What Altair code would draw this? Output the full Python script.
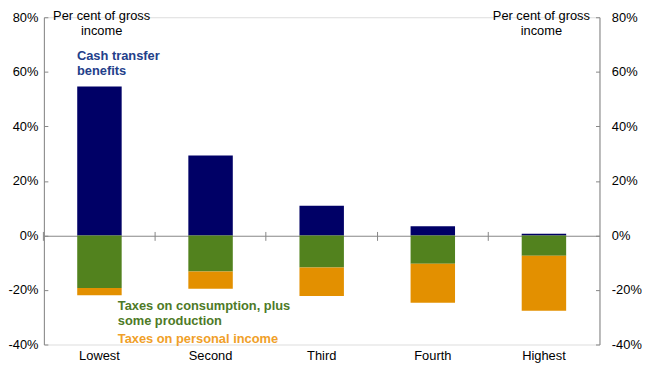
import altair as alt
import pandas as pd

categories = ["Lowest", "Second", "Third", "Fourth", "Highest"]
cash_transfer = [0.546, 0.293, 0.109, 0.034, 0.006]
tax_consumption = [-0.193, -0.132, -0.118, -0.104, -0.075]
tax_income = [-0.026, -0.064, -0.104, -0.143, -0.201]

series_names = ["Cash transfer benefits", "Taxes on consumption, plus some production", "Taxes on personal income"]
series_colors = ["#000066", "#52821E", "#E39000"]

y_ticks = [-0.4, -0.2, 0.0, 0.2, 0.4, 0.6, 0.8]
unit_label = ["Per cent of gross", "income"]
cash_label = ["Cash transfer", "benefits"]
consumption_label = ["Taxes on consumption, plus", "some production"]
income_label = ["Taxes on personal income"]

rows = []
for i, c in enumerate(categories):
    rows.append({"cat": c, "series": series_names[0], "order": 0, "value": cash_transfer[i]})
    rows.append({"cat": c, "series": series_names[1], "order": 1, "value": tax_consumption[i]})
    rows.append({"cat": c, "series": series_names[2], "order": 2, "value": tax_income[i]})
df = pd.DataFrame(rows)

W, H = 562, 331
FONT = "Liberation Sans"
FS = 13
AXIS_GREY = "#868686"

x_enc = alt.X("cat:N", sort=categories, title=None,
              scale=alt.Scale(paddingInner=0.6, paddingOuter=0.3),
              axis=alt.Axis(orient="bottom", offset=-H / 3 - 4, domain=False,
                            ticks=True, tickSize=9, tickColor=AXIS_GREY,
                            bandPosition=-0.75, labelAngle=0,
                            labelPadding=111, labelFontSize=FS, labelFont=FONT,
                            labelColor="#000000"))

y_scale = alt.Scale(domain=[-0.4, 0.8], nice=False, zero=False)

bars = alt.Chart(df).mark_bar().encode(
    x=x_enc,
    y=alt.Y("value:Q", stack="zero", scale=y_scale, title=None,
            axis=alt.Axis(orient="left", values=y_ticks,
                          labelExpr="round(datum.value*100) + '%'",
                          domain=True, domainColor=AXIS_GREY,
                          ticks=True, tickColor=AXIS_GREY, tickSize={"expr": "-4"},
                          labelPadding=10, labelFontSize=FS, labelFont=FONT,
                          labelColor="#000000",
                          grid=True, gridColor=AXIS_GREY,
                          gridOpacity={"expr": "datum.value === 0 ? 1 : 0"})),
    color=alt.Color("series:N", scale=alt.Scale(domain=series_names, range=series_colors), legend=None),
    order=alt.Order("order:Q"),
)

right = alt.Chart(df).mark_bar(opacity=0).encode(
    x=alt.X("cat:N", sort=categories, scale=alt.Scale(paddingInner=0.6, paddingOuter=0.3)),
    y=alt.Y("value:Q", stack="zero", scale=y_scale, title=None,
            axis=alt.Axis(orient="right", values=y_ticks,
                          labelExpr="round(datum.value*100) + '%'",
                          domain=True, domainColor=AXIS_GREY,
                          ticks=True, tickColor=AXIS_GREY, tickSize={"expr": "-4"},
                          labelPadding=16, labelFontSize=FS, labelFont=FONT,
                          labelColor="#000000", grid=False)),
    order=alt.Order("order:Q"),
)

def text_block(lines, x, y0, color, align, bold=False, step=15):
    layers = []
    for i, t in enumerate(lines):
        layers.append(
            alt.Chart(pd.DataFrame({"t": [t]})).mark_text(
                align=align, baseline="middle", font=FONT, fontSize=FS,
                fontWeight="bold" if bold else "normal", color=color
            ).encode(text="t:N", x=alt.value(x), y=alt.value(y0 + i * step))
        )
    return layers

texts = []
texts += text_block(unit_label, 58.4, -1.0, "#000000", "center", step=14.5)
texts += text_block(unit_label, 503.2, -1.0, "#000000", "center", step=14.5)
texts += text_block(cash_label, 33.4, 39.7, "#23408A", "left", bold=True)
texts += text_block(consumption_label, 74.7, 291.9, "#4E7A27", "left", bold=True, step=15.5)
texts += text_block(income_label, 74.7, 325.4, "#F0A028", "left", bold=True)

chart = alt.layer(bars, right, *texts).resolve_scale(y="independent").properties(
    width=W, height=H,
    autosize=alt.AutoSizeParams(type="none"),
    padding={"left": 36.3, "top": 7.3, "right": 43, "bottom": 22},
).configure_view(stroke=None).configure(background="white")

chart.save("out.html", embed_options={"renderer": "svg", "actions": False})
